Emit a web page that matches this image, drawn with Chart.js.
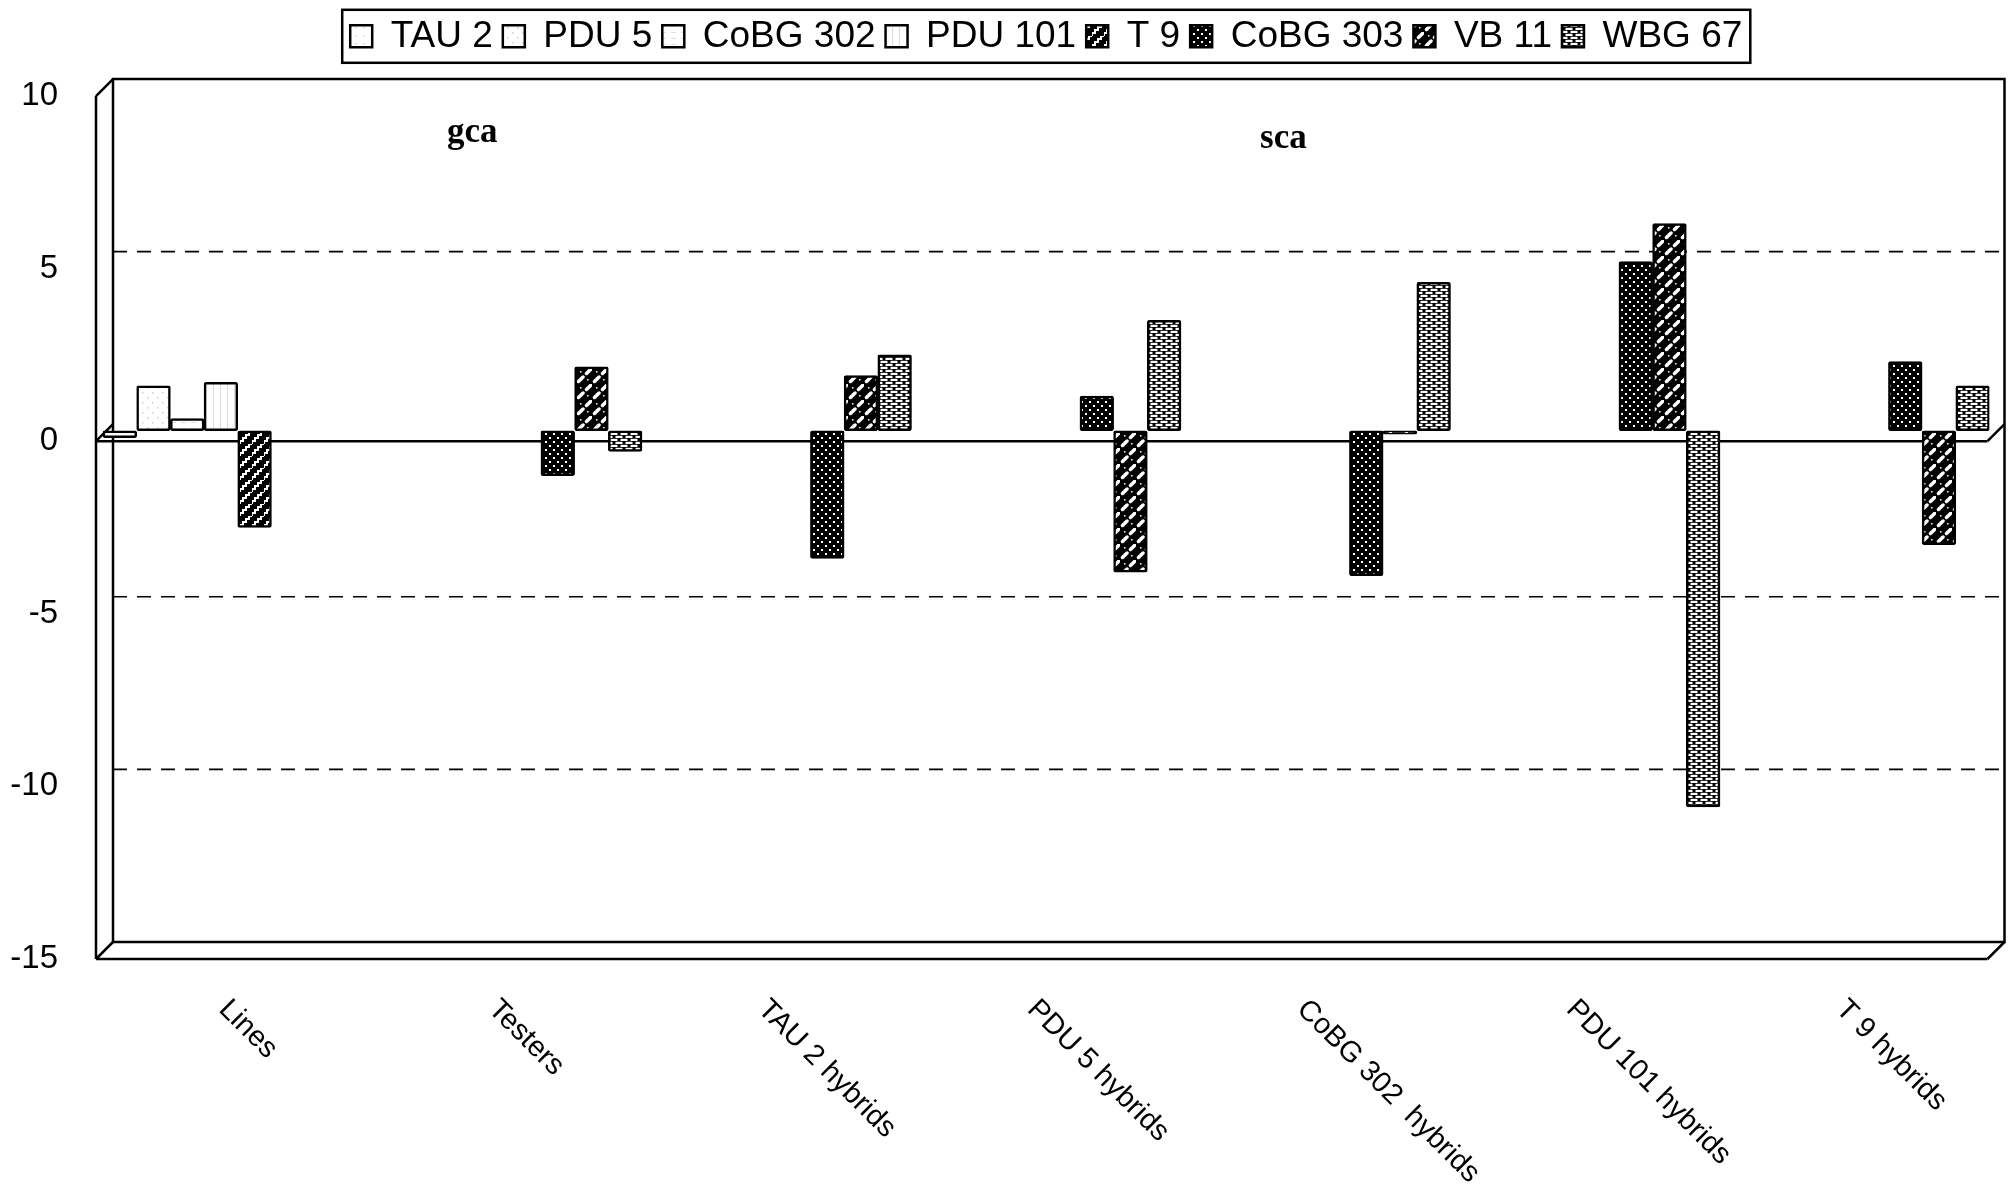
<!DOCTYPE html>
<html>
<head>
<meta charset="utf-8">
<script src="https://cdn.jsdelivr.net/npm/chart.js@4.4.1/dist/chart.umd.min.js"></script>
<style>
  body { margin: 0; background: #fff; }
  #wrap { width: 2009px; height: 1189px; }
</style>
</head>
<body>
<div id="wrap"><canvas id="gcaChart" width="2009" height="1189"></canvas></div>
<script>
const categories = ["Lines", "Testers", "TAU 2 hybrids", "PDU 5 hybrids", "CoBG 302  hybrids", "PDU 101 hybrids", "T 9 hybrids"];

// gca of lines (first group) and testers (second group), then sca per line x tester
const tau2    = [-0.2, null, null, null, null, null, null];
const pdu5    = [1.3, null, null, null, null, null, null];
const cobg302 = [0.35, null, null, null, null, null, null];
const pdu101  = [1.4, null, null, null, null, null, null];
const t9      = [-2.8, null, null, null, null, null, null];
const cobg303 = [null, -1.3, -3.7, 1.0, -4.2, 4.9, 2.0];
const vb11    = [null, 1.85, 1.6, -4.1, -0.1, 6.0, -3.3];
const wbg67   = [null, -0.6, 2.2, 3.2, 4.3, -10.9, 1.3];

const yTicks = [-15, -10, -5, 0, 5, 10];
const gridValues = [5, -5, -10];

// depth of the fake 3D box and how far the front edge sits below the bar baseline
const DEPTH = 17;
const LIFT = 10.5;

function pattern(w, h, draw) {
    const c = document.createElement("canvas");
    c.width = w;
    c.height = h;
    const g = c.getContext("2d");
    draw(g);
    return g.createPattern(c, "repeat");
}

const fills = {
    tau2: pattern(8, 8, g => {
        g.fillStyle = "#fff"; g.fillRect(0, 0, 8, 8);
        g.fillStyle = "#d8d8d8"; g.fillRect(3, 3, 1.5, 1.5);
    }),
    pdu5: pattern(10, 10, g => {
        g.fillStyle = "#fff"; g.fillRect(0, 0, 10, 10);
        g.fillStyle = "#d0d0d0"; g.fillRect(2, 2, 1.5, 1.5); g.fillRect(7, 7, 1.5, 1.5);
    }),
    cobg302: pattern(10, 6, g => {
        g.fillStyle = "#fff"; g.fillRect(0, 0, 10, 6);
        g.fillStyle = "#e0e0e0"; g.fillRect(1, 2, 5, 1);
    }),
    pdu101: pattern(7, 7, g => {
        g.fillStyle = "#fff"; g.fillRect(0, 0, 7, 7);
        g.fillStyle = "#dcdcdc"; g.fillRect(3, 0, 1, 7);
    }),
    t9: pattern(12, 12, g => {
        g.fillStyle = "#000"; g.fillRect(0, 0, 12, 12);
        g.strokeStyle = "#fff"; g.lineWidth = 2;
        g.beginPath();
        g.moveTo(0, 12); g.lineTo(0, 9); g.lineTo(3, 9); g.lineTo(3, 6); g.lineTo(6, 6);
        g.lineTo(6, 3); g.lineTo(9, 3); g.lineTo(9, 0); g.lineTo(12, 0);
        g.stroke();
    }),
    cobg303: pattern(8, 8, g => {
        g.fillStyle = "#000"; g.fillRect(0, 0, 8, 8);
        g.fillStyle = "#fff"; g.fillRect(1, 1, 2, 2); g.fillRect(5, 5, 2, 2);
    }),
    vb11: pattern(16, 16, g => {
        g.fillStyle = "#000"; g.fillRect(0, 0, 16, 16);
        g.strokeStyle = "#fff"; g.lineWidth = 3.5; g.lineCap = "round";
        g.beginPath();
        g.moveTo(2.5, 13.5); g.lineTo(7, 9);
        g.moveTo(10.5, 5.5); g.lineTo(15, 1);
        g.stroke();
        g.fillStyle = "#fff";
        g.fillRect(11, 11, 1.5, 1.5); g.fillRect(4, 3, 1.5, 1.5);
    }),
    wbg67: pattern(10, 6, g => {
        g.fillStyle = "#000"; g.fillRect(0, 0, 10, 6);
        g.fillStyle = "#fff";
        g.fillRect(0.5, 0.8, 7, 2.2);
        g.fillRect(5.5, 3.8, 7, 2.2); g.fillRect(-4.5, 3.8, 7, 2.2);
    })
};

function series(label, data, fill) {
    return {
        label: label,
        data: data,
        backgroundColor: fill,
        borderColor: "#000",
        borderWidth: 2.5,
        borderSkipped: false,
        borderRadius: 2
    };
}

// pseudo 3D box: back wall, left wall, floor and the zero slab
const frame3d = {
    id: "frame3d",
    beforeDatasetsDraw(chart) {
        const { ctx, chartArea: a, scales: { y } } = chart;
        const top = Math.max(...yTicks), bottom = Math.min(...yTicks);
        const fl = a.left - 7, fr = a.right - 2, bl = fl + DEPTH, br = fr + DEPTH;
        const fy = v => y.getPixelForValue(v) + LIFT;
        const by = v => fy(v) - DEPTH;
        const line = (x1, y1, x2, y2) => { ctx.beginPath(); ctx.moveTo(x1, y1); ctx.lineTo(x2, y2); ctx.stroke(); };

        ctx.save();
        ctx.strokeStyle = "#000";
        ctx.lineWidth = 1.6;
        ctx.setLineDash([14, 10]);
        gridValues.forEach(v => line(bl, by(v), br, by(v)));
        ctx.setLineDash([]);

        ctx.lineWidth = 2.5;
        ctx.strokeRect(bl, by(top), br - bl, by(bottom) - by(top));
        line(fl, fy(top), bl, by(top));
        line(fl, fy(top), fl, fy(bottom));
        line(fl, fy(bottom), bl, by(bottom));
        line(fl, fy(bottom), fr, fy(bottom));
        line(fr, fy(bottom), br, by(bottom));

        // floor slab at zero
        line(fl, fy(0), fr, fy(0));
        line(fl, fy(0), bl, by(0));
        line(fr, fy(0), br, by(0));
        ctx.restore();
    },
    afterDatasetsDraw(chart) {
        const { ctx, scales: { x, y } } = chart;
        ctx.save();
        ctx.fillStyle = "#000";
        ctx.font = "bold 35px 'Liberation Serif', 'Times New Roman', serif";
        ctx.textAlign = "center";
        ctx.textBaseline = "alphabetic";
        ctx.fillText("gca", x.getPixelForValue(0.87), y.getPixelForValue(8.35));
        ctx.fillText("sca", x.getPixelForValue(3.88), y.getPixelForValue(8.2));
        ctx.restore();
    },
    afterDraw(chart) {
        const { ctx, chartArea: a, scales: { x } } = chart;
        ctx.save();
        ctx.fillStyle = "#000";
        ctx.font = "29px 'Liberation Sans', Arial, sans-serif";
        ctx.textAlign = "left";
        ctx.textBaseline = "top";
        categories.forEach((c, i) => {
            ctx.save();
            ctx.translate(x.getPixelForValue(i) - 4, a.bottom + 46);
            ctx.rotate(45 * Math.PI / 180);
            ctx.fillText(c, 0, 0);
            ctx.restore();
        });

        // frame round the legend
        const hb = chart.legend.legendHitBoxes;
        if (hb && hb.length) {
            const last = hb[hb.length - 1];
            const l = hb[0].left - 8, r = last.left + last.width + 8;
            const t = hb[0].top - 8, b = hb[0].top + hb[0].height + 8;
            ctx.strokeStyle = "#000";
            ctx.lineWidth = 2.5;
            ctx.strokeRect(l, t, r - l, b - t);
        }
        ctx.restore();
    }
};

Chart.defaults.color = "#000";
Chart.defaults.font.family = "'Liberation Sans', Arial, sans-serif";

new Chart(document.getElementById("gcaChart"), {
    type: "bar",
    data: {
        labels: categories,
        datasets: [
            series("TAU 2", tau2, fills.tau2),
            series("PDU 5", pdu5, fills.pdu5),
            series("CoBG 302", cobg302, fills.cobg302),
            series("PDU 101", pdu101, fills.pdu101),
            series("T 9", t9, fills.t9),
            series("CoBG 303", cobg303, fills.cobg303),
            series("VB 11", vb11, fills.vb11),
            series("WBG 67", wbg67, fills.wbg67)
        ]
    },
    options: {
        responsive: false,
        animation: false,
        layout: { padding: { top: 0, right: 19.5, bottom: 240.5, left: 0 } },
        datasets: { bar: { categoryPercentage: 1.0, barPercentage: 1.0 } },
        plugins: {
            tooltip: { enabled: false },
            legend: {
                position: "top",
                fullSize: false,
                labels: {
                    font: { size: 37 },
                    boxWidth: 22,
                    boxHeight: 22,
                    padding: 10
                }
            }
        },
        scales: {
            x: { display: false },
            y: {
                min: -15,
                max: 10.6,
                grid: { display: false, drawTicks: false },
                border: { display: false },
                afterFit(scale) { scale.width = 103; },
                afterBuildTicks(scale) { scale.ticks = yTicks.map(v => ({ value: v })); },
                ticks: {
                    padding: 45,
                    labelOffset: LIFT,
                    font: { size: 33 }
                }
            }
        }
    },
    plugins: [frame3d]
});
</script>
</body>
</html>
